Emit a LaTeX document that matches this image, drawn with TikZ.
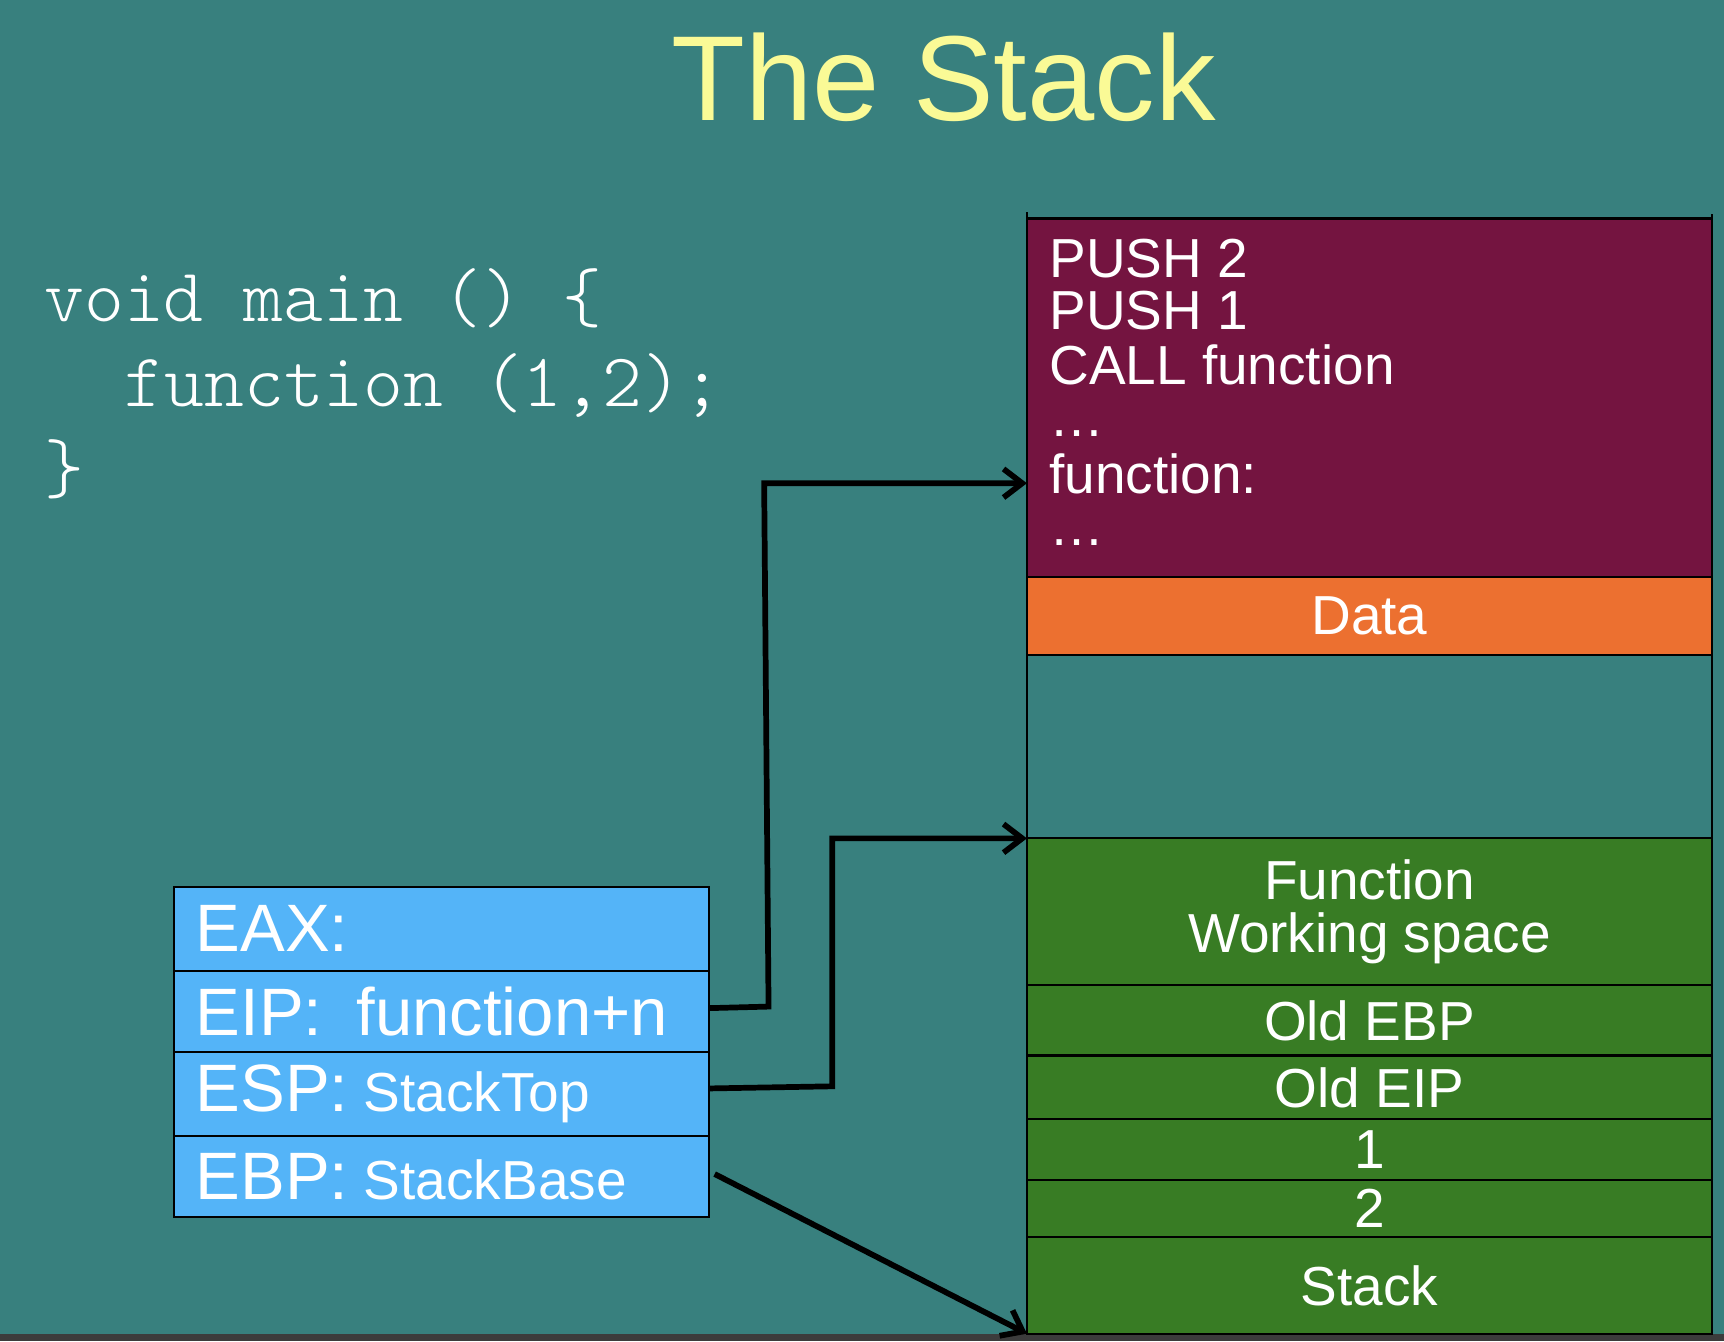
\documentclass[tikz,border=0pt]{standalone}
\usepackage{fontspec}
\setmainfont{Liberation Sans}
\newfontfamily\codefont{Latin Modern Mono Light}
\usetikzlibrary{arrows.meta}
\definecolor{bgteal}{HTML}{38807E}
\definecolor{codemaroon}{HTML}{741440}
\definecolor{dataorange}{HTML}{EC7030}
\definecolor{stackgreen}{HTML}{387C24}
\definecolor{regblue}{HTML}{54B4F8}
\definecolor{titleyellow}{HTML}{FAFA96}
\definecolor{stripgray}{HTML}{3C3C3C}
\begin{document}
\begin{tikzpicture}[x=0.5pt,y=-0.5pt,
  cell/.style={draw=black, line width=1pt, minimum width=311.5pt, inner sep=0pt, outer sep=0pt,
    anchor=north west, text=white, align=center, font=\fontsize{25}{24}\selectfont},
  reg/.style={draw=black, line width=1pt, fill=regblue, minimum width=243.5pt, inner xsep=10pt, inner ysep=0pt,
    outer sep=0pt, text width=223.5pt, align=left, anchor=north west, text=white, font=\fontsize{30.5}{36}\selectfont},
  instr/.style={anchor=base west, inner sep=0pt, text=white, font=\fontsize{25}{30}\selectfont},
  codeline/.style={anchor=base west, inner sep=0pt, text=white, font=\codefont\fontsize{34.5}{40}\selectfont},
  conn/.style={line width=2.6pt, -{Straight Barb[length=8.5pt,width=13pt]}},
]
\useasboundingbox (0,0) rectangle (1568,1220);
\fill[bgteal] (0,0) rectangle (1568,1220);
\fill[stripgray] (0,1213) rectangle (1568,1220);

% title
\node[anchor=base, inner sep=0pt, text=titleyellow, font=\fontsize{55}{66}\selectfont] (title) at (858,109.6) {The Stack};

% code
\node[codeline] (code1) at (40,292.6) {void main () \{};
\node[codeline] (code2) at (113,370) {function (1,2);};
\node[codeline] (code3) at (40,448) {\}};

% memory column
\node[cell, fill=codemaroon, minimum height=162.75pt] (codeseg) at (934,199) {};
\node[cell, fill=dataorange, minimum height=35.6pt] (data) at (934,524.5) {Data};
\node[cell, draw=none, minimum height=83.4pt] (gap) at (934,595.7) {};
\node[cell, fill=stackgreen, minimum height=66.85pt] (fws) at (934,762.5) {Function\\Working space};
\node[cell, fill=stackgreen, minimum height=31.9pt] (oldebp) at (934,896.2) {Old EBP};
\node[cell, fill=stackgreen, minimum height=28.95pt] (oldeip) at (934,960) {Old EIP};
\node[cell, fill=stackgreen, minimum height=27.65pt] (argone) at (934,1017.9) {1};
\node[cell, fill=stackgreen, minimum height=26.1pt] (argtwo) at (934,1073.2) {2};
\node[cell, fill=stackgreen, minimum height=43.8pt] (stk) at (934,1125.4) {Stack};
\draw[line width=1pt] (codeseg.north west) ++(0,-6) -- (stk.south west);
\draw[line width=1pt] (codeseg.north east) ++(0,-4) -- (stk.south east);
\draw[line width=1.4pt] (codeseg.north west) -- (codeseg.north east);

% instructions
\node[instr] (i1) at (954,252.5) {PUSH 2};
\node[instr] (i2) at (954,299.5) {PUSH 1};
\node[instr] (i3) at (954,349.6) {CALL function};
\node[instr] (i4) at (954,397) {…};
\node[instr] (i5) at (954,448.7) {function:};
\node[instr] (i6) at (954,496.3) {…};

% registers
\node[reg, minimum height=38.15pt] (eax) at (158,806.7) {EAX:};
\node[reg, minimum height=36.9pt] (eip) at (158,883) {EIP:\hspace{15.5pt}function+n};
\node[reg, minimum height=38.15pt] (esp) at (158,956.8) {ESP:\hspace{7pt}{\fontsize{25}{30}\selectfont StackTop}};
\node[reg, minimum height=36.7pt] (ebp) at (158,1033.1) {EBP:\hspace{7pt}{\fontsize{25}{30}\selectfont StackBase}};

% connectors
\coordinate (fnentry) at (codeseg.west |- 0,439.5);
\draw[conn] ([yshift=1.5pt]eip.east) -- (699,915.5) -- (695,439.5) -- (fnentry);
\draw[conn] ([yshift=2.5pt]esp.east) -- (757,988) -- (757,762.5) -- (fws.north west);
\draw[conn] ([xshift=2.5pt,yshift=1pt]ebp.east) -- (stk.south west);
\end{tikzpicture}
\end{document}
